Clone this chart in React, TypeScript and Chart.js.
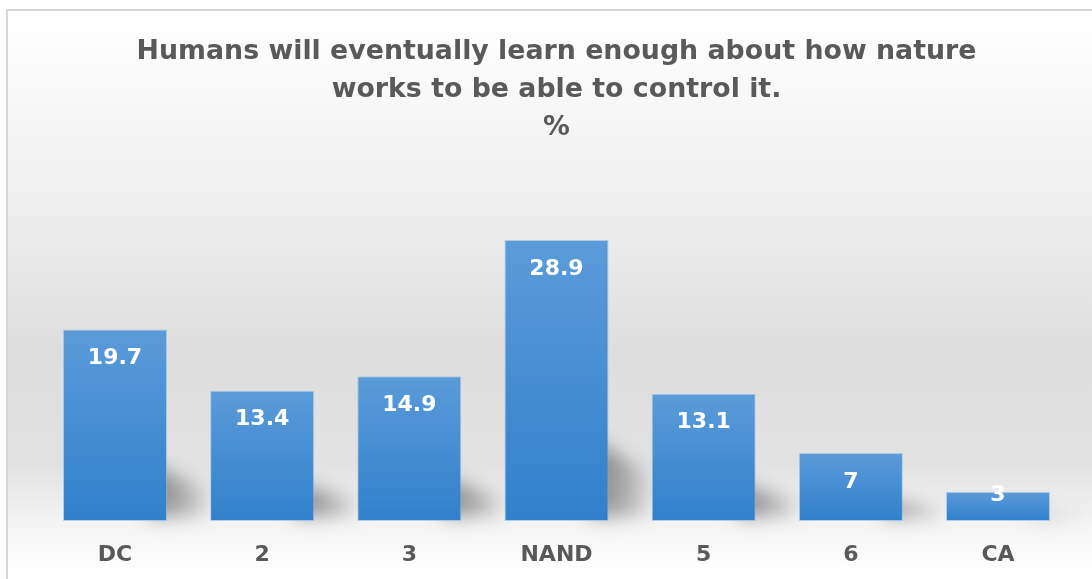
import React, { useEffect, useRef } from "react";
import { Chart, registerables } from "chart.js";

Chart.register(...registerables);

const categories = ["DC", "2", "3", "NAND", "5", "6", "CA"];
const percentValues = [19.7, 13.4, 14.9, 28.9, 13.1, 7, 3];
const titleLines = [
  "Humans will eventually learn enough about how nature",
  "works to be able to control it.",
  "%",
];

const WIDTH = 1092;
const HEIGHT = 579;
const FONT = "'DejaVu Sans', 'Open Sans', sans-serif";
const TEXT_GREY = "#595959";

// Soft grey panel with a thin frame along the top and left edges.
const panelBackground = {
  id: "panelBackground",
  beforeDraw(chart: any) {
    const { ctx, width, height } = chart;
    ctx.save();
    ctx.fillStyle = "#ffffff";
    ctx.fillRect(0, 0, width, height);
    const g = ctx.createLinearGradient(0, 10, 0, height);
    g.addColorStop(0, "#ffffff");
    g.addColorStop(0.3, "#f1f1f1");
    g.addColorStop(0.6, "#dedede");
    g.addColorStop(0.8, "#e2e2e2");
    g.addColorStop(0.9, "#f4f4f4");
    g.addColorStop(1, "#ffffff");
    ctx.fillStyle = g;
    ctx.fillRect(7, 10, width - 7, height - 10);
    ctx.strokeStyle = "#d6d6d6";
    ctx.lineWidth = 2;
    ctx.beginPath();
    ctx.moveTo(7, height);
    ctx.lineTo(7, 10);
    ctx.lineTo(width, 10);
    ctx.stroke();
    ctx.restore();
  },
};

// Perspective shadow cast behind each bar towards the upper right.
const barShadows = {
  id: "barShadows",
  beforeDatasetsDraw(chart: any) {
    const { ctx } = chart;
    const meta = chart.getDatasetMeta(0);
    ctx.save();
    ctx.filter = "blur(9px)";
    meta.data.forEach((bar: any) => {
      const half = bar.width / 2;
      const xr = bar.x + half;
      const h = bar.base - bar.y;
      const sh = Math.min(h * 0.3, 90);
      const g = ctx.createLinearGradient(xr, 0, xr + 46, 0);
      g.addColorStop(0, "rgba(0,0,0,0.36)");
      g.addColorStop(0.55, "rgba(0,0,0,0.2)");
      g.addColorStop(1, "rgba(0,0,0,0)");
      ctx.fillStyle = g;
      ctx.beginPath();
      ctx.moveTo(xr - 20, bar.base - 4);
      ctx.lineTo(xr - 20, bar.base - sh);
      ctx.lineTo(xr + 48, bar.base - sh * 0.5);
      ctx.lineTo(xr + 48, bar.base - 4);
      ctx.closePath();
      ctx.fill();
    });
    ctx.restore();
  },
};

// White value labels near the top of every bar.
const valueLabels = {
  id: "valueLabels",
  afterDatasetsDraw(chart: any) {
    const { ctx } = chart;
    const meta = chart.getDatasetMeta(0);
    ctx.save();
    ctx.font = `bold 22px ${FONT}`;
    ctx.fillStyle = "#ffffff";
    ctx.textAlign = "center";
    ctx.textBaseline = "middle";
    meta.data.forEach((bar: any, i: number) => {
      const y = Math.min(bar.y + 29, bar.base - 26);
      ctx.fillText(String(percentValues[i]), bar.x, y);
    });
    ctx.restore();
  },
};

export default function App() {
  const canvasRef = useRef<HTMLCanvasElement | null>(null);

  useEffect(() => {
    document.body.style.margin = "0";
    const canvas = canvasRef.current;
    if (!canvas) return;

    const chart = new Chart(canvas, {
      type: "bar",
      data: {
        labels: categories,
        datasets: [
          {
            data: percentValues,
            backgroundColor: (context: any) => {
              const c = context.chart;
              const yScale = c.scales?.y;
              if (!yScale || context.raw == null) return "#4a8fd4";
              const top = yScale.getPixelForValue(context.raw);
              const base = yScale.getPixelForValue(0);
              if (!Number.isFinite(top) || !Number.isFinite(base) || top === base) {
                return "#4a8fd4";
              }
              const g = c.ctx.createLinearGradient(0, top, 0, base);
              g.addColorStop(0, "#5b9bd9");
              g.addColorStop(1, "#3180cc");
              return g;
            },
            borderColor: "rgba(130,180,230,0.55)",
            borderWidth: 1,
            borderSkipped: false,
            categoryPercentage: 1,
            barPercentage: 0.707,
          },
        ],
      },
      options: {
        animation: false,
        responsive: true,
        maintainAspectRatio: false,
        layout: { padding: { top: 10, left: 41.4, right: 20.4, bottom: 0 } },
        plugins: {
          legend: { display: false },
          tooltip: { enabled: false },
          title: {
            display: true,
            text: titleLines,
            color: TEXT_GREY,
            font: { family: FONT, weight: "bold", size: 26.8, lineHeight: 1.42 },
            padding: { top: 23, bottom: 82.2 },
          },
        },
        scales: {
          x: {
            grid: { display: false, drawTicks: false },
            border: { display: false },
            ticks: {
              color: TEXT_GREY,
              font: { family: FONT, weight: "bold", size: 22 },
              padding: 21,
            },
            afterFit: (scale: any) => {
              scale.height = 58;
            },
          },
          y: {
            display: false,
            min: 0,
            max: 30,
          },
        },
      },
      plugins: [panelBackground, barShadows, valueLabels],
    });

    return () => chart.destroy();
  }, []);

  return (
    <div style={{ position: "relative", width: WIDTH, height: HEIGHT }}>
      <canvas ref={canvasRef} />
    </div>
  );
}
